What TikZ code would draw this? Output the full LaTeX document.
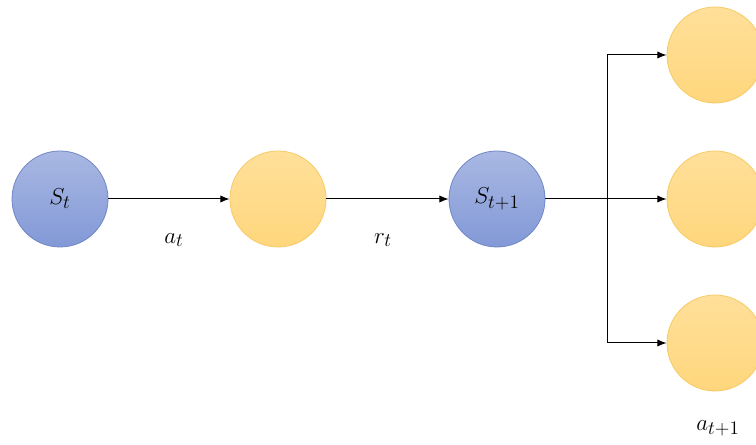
\documentclass[tikz,border=0pt]{standalone}
\usepackage{amsmath,amssymb}
\usepackage{tikz}
\usetikzlibrary{arrows.meta,positioning,calc}

\definecolor{stateTop}{HTML}{A9B8E3}
\definecolor{stateBot}{HTML}{8299D7}
\definecolor{stateLine}{HTML}{7086C6}
\definecolor{actTop}{HTML}{FFE09A}
\definecolor{actBot}{HTML}{FFD67C}
\definecolor{actLine}{HTML}{F6CB66}

\begin{document}
\begin{tikzpicture}[x=0.75pt,y=0.75pt,
  state/.style={circle,minimum size=72pt,inner sep=0pt,draw=stateLine,line width=0.6pt,
    top color=stateTop,bottom color=stateBot,font=\fontsize{19}{22}\selectfont},
  choice/.style={circle,minimum size=72pt,inner sep=0pt,draw=actLine,line width=0.6pt,
    top color=actTop,bottom color=actBot},
  lbl/.style={font=\fontsize{19}{22}\selectfont},
  link/.style={-{Latex[length=7pt,width=5.5pt]},line width=0.75pt}]
\useasboundingbox (0,0) rectangle (756,445);
% chain of one step
\node[state] (st) at (60,246) {$S_t$};
\node[choice] (act) at (278,246) {};
\node[state] (stn) at (497,246) {$S_{t+1}$};
% next actions
\node[choice] (nxa) at (715,390) {};
\node[choice] (nxb) at (715,246) {};
\node[choice] (nxc) at (715,102) {};
\coordinate (fork) at (607,246);
\draw[link] (st) -- (act);
\draw[link] (act) -- (stn);
\draw[line width=0.75pt] (stn) -- (fork);
\draw[line width=0.75pt] (fork |- nxa) -- (fork |- nxc);
\draw[link] (fork |- nxa) -- (nxa);
\draw[link] (fork) -- (nxb);
\draw[link] (fork |- nxc) -- (nxc);
% labels
\node[lbl] (at) at (174,205) {$a_t$};
\node[lbl] (rt) at (383,205) {$r_t$};
\node[lbl] (atn) at (718,17) {$a_{t+1}$};
\end{tikzpicture}
\end{document}
